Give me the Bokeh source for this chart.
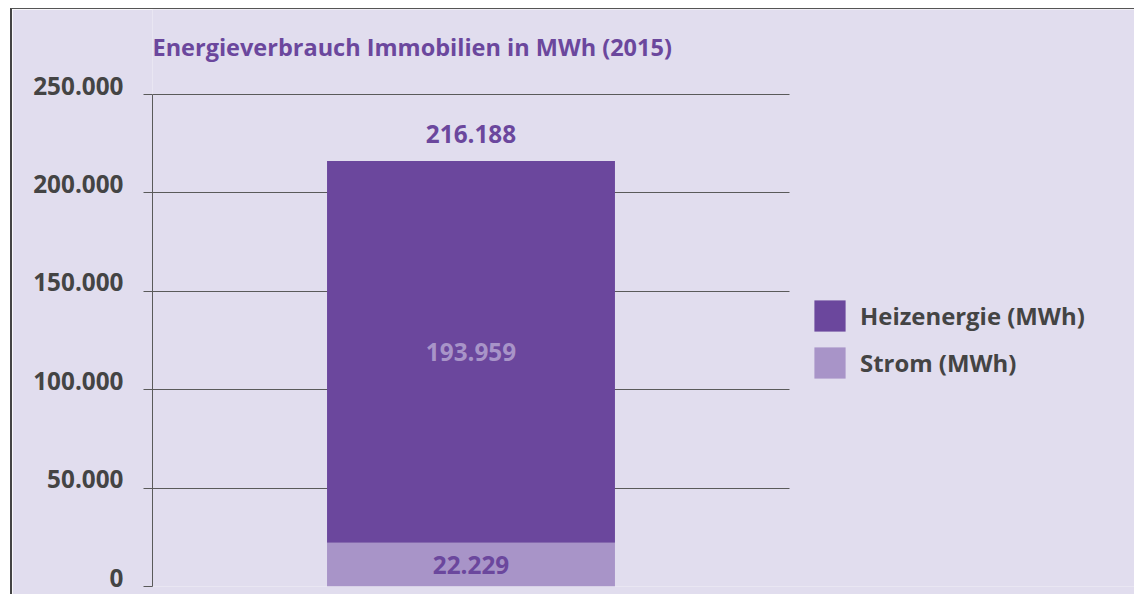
from bokeh.plotting import figure
from bokeh.models import (ColumnDataSource, Range1d, FixedTicker, LinearAxis,
                          Legend, LegendItem, Label)
from bokeh.core.properties import value
from bokeh.embed import file_html
from bokeh.resources import INLINE

# ---- data ----
years = ["2015"]
strom = [22229]
heizenergie = [193959]
series_names = ["Heizenergie (MWh)", "Strom (MWh)"]
y_ticks = [0, 50000, 100000, 150000, 200000, 250000]
title_text = "Energieverbrauch Immobilien in MWh (2015)"

def de(v):
    return f"{int(v):,}".replace(",", ".")

totals = [s + h for s, h in zip(strom, heizenergie)]

DARK = "#6B479D"
LIGHT = "#A894C8"
BG = "#E1DDEE"
GRAY = "#444444"
LINE = "#5a5a5a"
FONT = "Open Sans"

idx = list(range(len(years)))
src = ColumnDataSource(dict(
    idx=idx, year=years, strom=strom, heiz=heizenergie, total=totals,
    strom_mid=[s / 2 for s in strom],
    heiz_mid=[s + h / 2 for s, h in zip(strom, heizenergie)],
    strom_lbl=[de(v) for v in strom],
    heiz_lbl=[de(v) for v in heizenergie],
    total_lbl=[de(v) for v in totals],
))

# layout (canvas pixels)
W, H = 1124, 586
FL = 140          # frame left
AXIS_TOP = 85     # pixel row of the top tick
FB = 577          # frame bottom (value 0)
SLOT = 637        # pixel width of the gridded chart area
YMAX = y_ticks[-1]
px_per_unit = (FB - AXIS_TOP) / YMAX
y_top = FB / px_per_unit                 # frame reaches the canvas top
x_end = -0.5 + (W - FL) / SLOT           # frame reaches the canvas right

p = figure(width=W, height=H, output_backend="svg", toolbar_location=None,
           x_range=Range1d(-0.5, x_end), y_range=Range1d(0, y_top),
           x_axis_location=None, y_axis_location=None,
           min_border_left=FL, min_border_right=0, min_border_top=0,
           min_border_bottom=H - FB)
p.styles = {"border-left": "2px solid #444", "border-top": "1px solid #555",
            "margin-left": "10px", "margin-top": "8px"}
p.background_fill_color = BG
p.border_fill_color = BG
p.outline_line_color = None

renderers = p.vbar_stack(["strom", "heiz"], x="idx", width=0.452, source=src,
                         color=[LIGHT, DARK], line_color=None)

# labels on the bars
lbl_kw = dict(source=src, text_font=value(FONT), text_font_style="bold",
              text_font_size="24.3px", text_align="center", text_baseline="middle")
p.text(x="idx", y="total", text="total_lbl", text_color=DARK, y_offset=-27, **lbl_kw)
p.text(x="idx", y="heiz_mid", text="heiz_lbl", text_color=LIGHT, **lbl_kw)
p.text(x="idx", y="strom_mid", text="strom_lbl", text_color=DARK, **lbl_kw)

# main y axis: line and outside ticks only
main_ax = LinearAxis(ticker=FixedTicker(ticks=y_ticks), bounds=(0, YMAX),
                     major_label_text_font_size="0px", major_label_text_color=None,
                     major_label_standoff=0,
                     major_tick_out=9, major_tick_in=0,
                     major_tick_line_color=LINE, axis_line_color=LINE,
                     minor_tick_line_color=None)
p.add_layout(main_ax, "left")

# label axis: shifted a few pixels upward, labels only
shift = 9 / px_per_unit
p.extra_y_ranges = {"lbl": Range1d(-shift, y_top - shift)}
lbl_ax = LinearAxis(y_range_name="lbl", ticker=FixedTicker(ticks=y_ticks),
                    major_label_overrides={t: de(t) for t in y_ticks},
                    major_label_text_font=FONT, major_label_text_font_style="bold",
                    major_label_text_font_size="24.3px",
                    major_label_text_color=GRAY, major_label_standoff=20,
                    major_tick_out=0, major_tick_in=0, major_tick_line_color=None,
                    axis_line_color=None, minor_tick_line_color=None)
p.add_layout(lbl_ax, "left")

# grid restricted to the chart area
p.xgrid.visible = False
p.ygrid.ticker = FixedTicker(ticks=y_ticks)
p.ygrid.grid_line_color = LINE
p.ygrid.grid_line_width = 1
p.ygrid.cross_bounds = (-0.5, len(years) - 0.5)

# title (inside the frame, at its top-left)
p.add_layout(Label(x=0, y=FB - 37, x_units="screen", y_units="screen",
                   text=title_text, text_color=DARK, text_font=FONT,
                   text_font_style="bold", text_font_size="23.5px",
                   text_align="left", text_baseline="middle"))

# legend
legend = Legend(items=[LegendItem(label=series_names[0], renderers=[renderers[1]]),
                       LegendItem(label=series_names[1], renderers=[renderers[0]])],
                location=(SLOT + 21, 204), orientation="vertical",
                glyph_width=39, glyph_height=39, label_standoff=11, spacing=8,
                padding=0, margin=0, border_line_color=None,
                background_fill_alpha=0,
                label_text_font=FONT, label_text_font_style="bold",
                label_text_font_size="23.9px", label_text_color=GRAY)
p.add_layout(legend, "center")

open("out.html", "w").write(file_html(p, INLINE))
